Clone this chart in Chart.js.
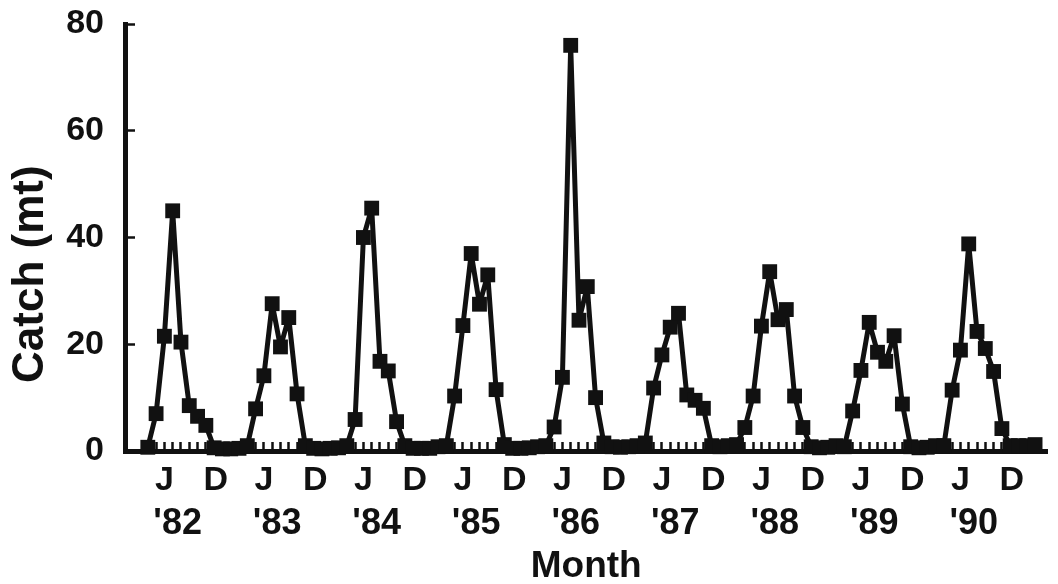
<!DOCTYPE html>
<html>
<head>
<meta charset="utf-8">
<script src="https://cdn.jsdelivr.net/npm/chart.js@4.4.1/dist/chart.umd.min.js"></script>
<style>
  html, body { margin: 0; padding: 0; background: #ffffff; }
  #wrap { width: 1058px; height: 584px; }
</style>
</head>
<body>
<div id="wrap"><canvas id="c" width="1058" height="584"></canvas></div>
<script>
// Monthly catch (mt), April of each season through March of the next
const catch1982 = [0.7, 7.0, 21.5, 45.0, 20.4, 8.5, 6.5, 4.8, 0.6, 0.4, 0.4, 0.5];
const catch1983 = [1.0, 7.9, 14.1, 27.6, 19.5, 25.0, 10.7, 1.0, 0.5, 0.4, 0.5, 0.6];
const catch1984 = [1.0, 5.9, 40.0, 45.5, 16.8, 15.0, 5.5, 1.0, 0.5, 0.5, 0.5, 0.8];
const catch1985 = [1.0, 10.3, 23.5, 37.0, 27.5, 33.0, 11.5, 1.2, 0.5, 0.5, 0.6, 0.8];
const catch1986 = [1.0, 4.5, 13.8, 76.0, 24.5, 30.8, 10.0, 1.5, 0.8, 0.7, 0.8, 1.0];
const catch1987 = [1.5, 11.8, 18.0, 23.2, 25.8, 10.5, 9.5, 8.0, 1.0, 0.8, 1.0, 1.2];
const catch1988 = [4.4, 10.3, 23.4, 33.6, 24.6, 26.5, 10.3, 4.4, 0.8, 0.6, 0.7, 1.0];
const catch1989 = [0.8, 7.5, 15.1, 24.1, 18.5, 16.8, 21.6, 8.8, 0.8, 0.6, 0.7, 1.0];
const catch1990 = [1.0, 11.4, 18.9, 38.8, 22.4, 19.2, 14.9, 4.2, 1.0, 1.0, 1.0, 1.2];

// Axis labels
const seasonLabels = ["'82", "'83", "'84", "'85", "'86", "'87", "'88", "'89", "'90"];
const monthLetters = ['J', 'D'];          // June and December markers
const monthLetterIndex = [2, 8.2];        // month index within each season (Apr = 0)
const seasonLabelIndex = 3.6;             // where the year label sits within a season
const yTicks = [0, 20, 40, 60, 80];

const allCatch = [].concat(catch1982, catch1983, catch1984, catch1985, catch1986,
                           catch1987, catch1988, catch1989, catch1990);
const points = allCatch.map((v, i) => ({ x: i, y: v }));

const letterTicks = [];
seasonLabels.forEach((s, k) => {
  monthLetters.forEach((m, j) => letterTicks.push({ value: 12 * k + monthLetterIndex[j], label: m }));
});
const yearTicks = seasonLabels.map((s, k) => ({ value: 12 * k + seasonLabelIndex, label: s }));

const X_MIN = -2.75, X_MAX = 108.5;
const INK = '#111111';
const FONT = 'Liberation Sans, Arial, Helvetica, sans-serif';

new Chart(document.getElementById('c'), {
  type: 'line',
  data: {
    datasets: [{
      data: points,
      borderColor: INK,
      backgroundColor: INK,
      borderWidth: 5,
      borderJoinStyle: 'round',
      borderCapStyle: 'round',
      pointStyle: 'rect',
      pointRadius: 10.5,
      pointBorderWidth: 0,
      pointBackgroundColor: INK,
      tension: 0,
      clip: false
    }]
  },
  options: {
    responsive: false,
    animation: false,
    devicePixelRatio: 1,
    layout: { padding: { top: 24, right: 6, bottom: 0, left: 0 } },
    plugins: { legend: { display: false }, tooltip: { enabled: false } },
    scales: {
      x: {
        type: 'linear', position: 'bottom', min: X_MIN, max: X_MAX,
        afterBuildTicks: s => { s.ticks = allCatch.map((v, i) => ({ value: i })); },
        afterFit: s => { s.height = 0; },
        ticks: { display: false },
        grid: { drawOnChartArea: false, drawTicks: true, tickLength: -9, tickWidth: 2.5, tickColor: INK, color: INK },
        border: { display: true, width: 5, color: INK }
      },
      xLetters: {
        type: 'linear', position: 'bottom', min: X_MIN, max: X_MAX,
        afterBuildTicks: s => { s.ticks = letterTicks.map(t => ({ value: t.value })); },
        afterFit: s => { s.height = 49; s.paddingLeft = 0; s.paddingRight = 0; },
        ticks: {
          autoSkip: false, maxRotation: 0, minRotation: 0, padding: 9, color: INK,
          font: { family: FONT, size: 34, weight: 'bold' },
          callback: (v) => { const t = letterTicks.find(t => Math.abs(t.value - v) < 1e-6); return t ? t.label : ''; }
        },
        grid: { display: false, drawTicks: false },
        border: { display: false }
      },
      xYears: {
        type: 'linear', position: 'bottom', min: X_MIN, max: X_MAX,
        afterBuildTicks: s => { s.ticks = yearTicks.map(t => ({ value: t.value })); },
        afterFit: s => { s.height = 84; s.paddingLeft = 0; s.paddingRight = 0; },
        ticks: {
          autoSkip: false, maxRotation: 0, minRotation: 0, padding: 2, color: INK,
          font: { family: FONT, size: 36, weight: 'bold' },
          callback: (v) => { const t = yearTicks.find(t => Math.abs(t.value - v) < 1e-6); return t ? t.label : ''; }
        },
        grid: { display: false, drawTicks: false },
        border: { display: false },
        title: { display: true, text: 'Month', color: INK, padding: { top: 0, bottom: -5 },
                 font: { family: FONT, size: 37, weight: 'bold' } }
      },
      y: {
        type: 'linear', position: 'left', min: 0, max: 80,
        afterBuildTicks: s => { s.ticks = yTicks.map(v => ({ value: v })); },
        afterFit: s => { s.width = 125; s.paddingTop = 20; s.paddingBottom = 0; },
        ticks: { padding: 31, color: INK, font: { family: FONT, size: 34, weight: 'bold' } },
        grid: { drawOnChartArea: false, drawTicks: true, tickLength: -10, tickWidth: 2.5, tickColor: INK, color: INK },
        border: { display: true, width: 5, color: INK },
        title: { display: true, text: 'Catch (mt)      ', color: INK, padding: { top: 4, bottom: 0 },
                 font: { family: FONT, size: 44, weight: 'bold' } }
      }
    }
  }
});
</script>
</body>
</html>
